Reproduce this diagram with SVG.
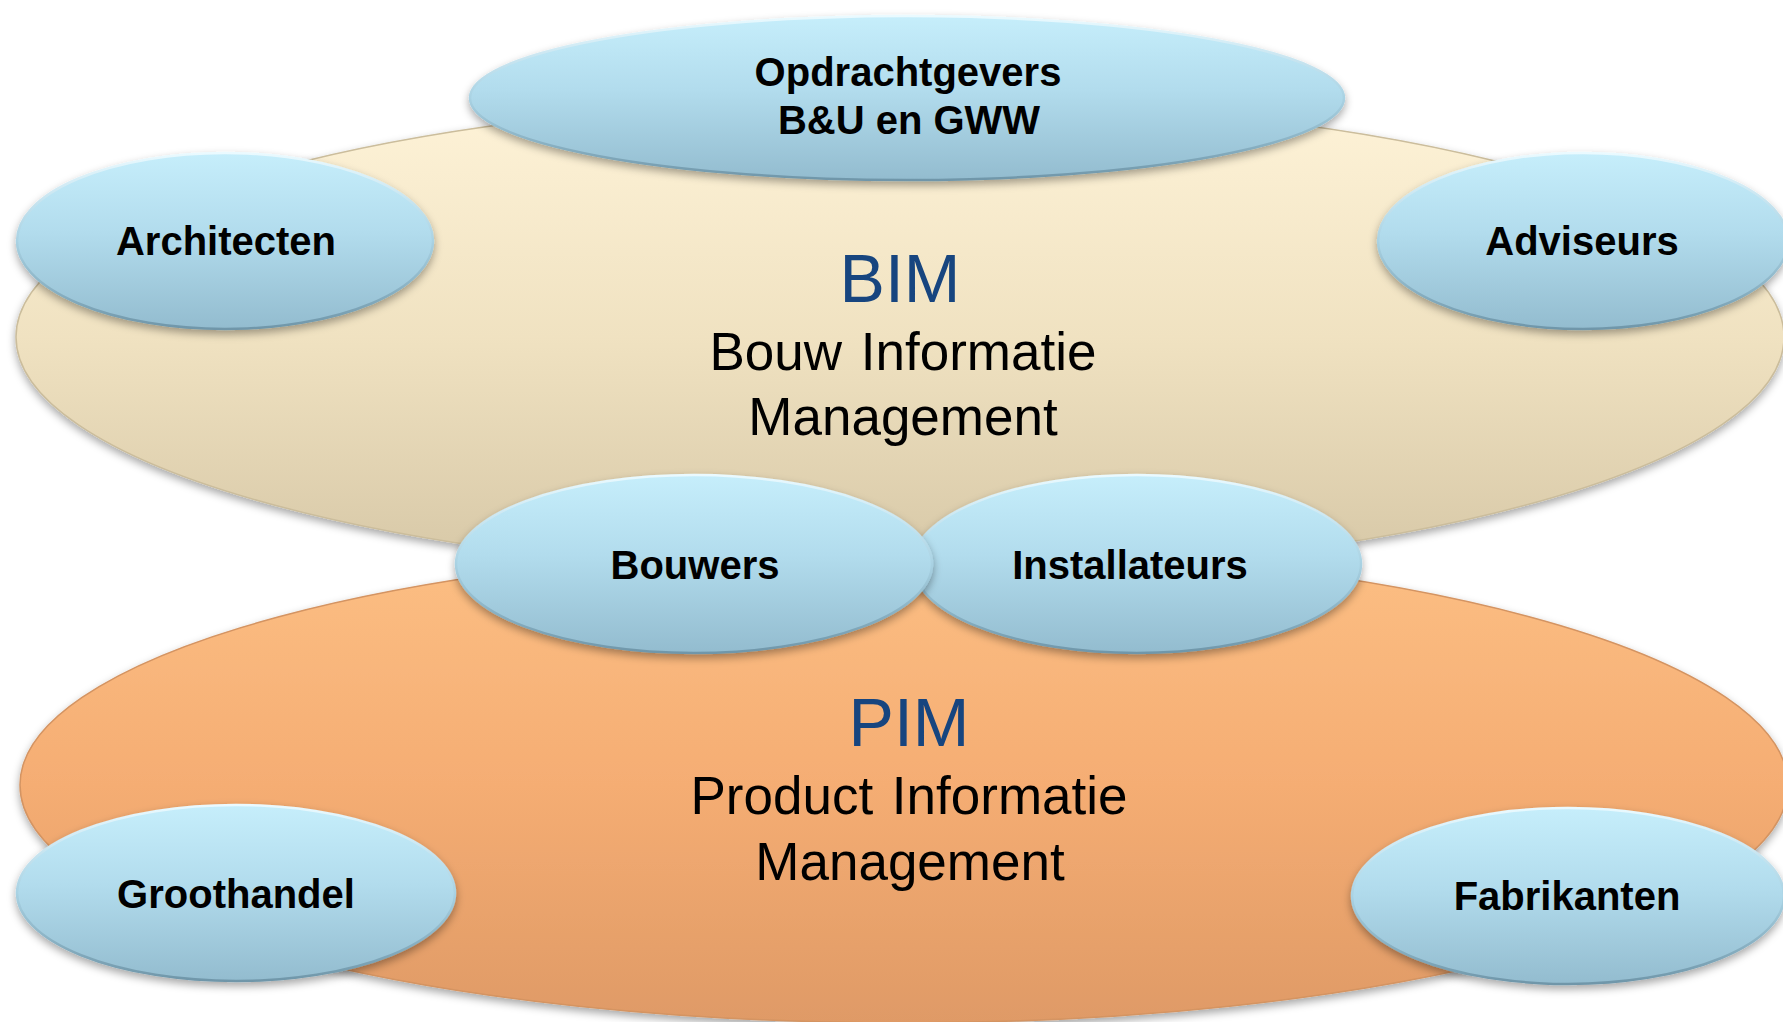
<svg xmlns="http://www.w3.org/2000/svg" width="1783" height="1022" viewBox="0 0 1783 1022">
  <defs>
    <linearGradient id="gBlue" x1="0" y1="0" x2="0" y2="1">
      <stop offset="0" stop-color="#c6eefb"/>
      <stop offset="0.45" stop-color="#b2dced"/>
      <stop offset="1" stop-color="#93bccf"/>
    </linearGradient>
    <linearGradient id="gBlueEdge" x1="0" y1="0" x2="0" y2="1">
      <stop offset="0" stop-color="#eafaff"/>
      <stop offset="0.5" stop-color="#a9d2e3"/>
      <stop offset="1" stop-color="#6f96a9"/>
    </linearGradient>
    <linearGradient id="gBeige" x1="0" y1="0" x2="0" y2="1">
      <stop offset="0" stop-color="#fef3d8"/>
      <stop offset="0.5" stop-color="#f0e2c1"/>
      <stop offset="1" stop-color="#d6c7a6"/>
    </linearGradient>
    <linearGradient id="gOrange" x1="0" y1="0" x2="0" y2="1">
      <stop offset="0" stop-color="#fcbf84"/>
      <stop offset="0.5" stop-color="#f5ad73"/>
      <stop offset="1" stop-color="#df9a66"/>
    </linearGradient>
    <filter id="shadow" x="-10%" y="-10%" width="120%" height="130%">
      <feDropShadow dx="0" dy="4" stdDeviation="4" flood-color="#000" flood-opacity="0.35"/>
    </filter>
  </defs>
  <style>
    .blue { fill: url(#gBlue); stroke: url(#gBlueEdge); stroke-width: 2.5; filter: url(#shadow); }
    .lbl { font-family: "Liberation Sans", Arial, sans-serif; font-weight: bold; font-size: 40px; fill: #000; text-anchor: middle; }
    .big { font-family: "Liberation Sans", Arial, sans-serif; font-size: 68px; fill: #17457f; text-anchor: middle; }
    .sub { font-family: "Liberation Sans", Arial, sans-serif; font-size: 53px; fill: #000; text-anchor: middle; word-spacing: 4px; }
  </style>
  <rect width="1783" height="1022" fill="#ffffff"/>

  <g id="bim">
    <ellipse cx="900" cy="337" rx="884" ry="238" fill="url(#gBeige)" stroke="#cbbd9c" stroke-width="1.5" filter="url(#shadow)"/>
    <text class="big" x="900" y="302">BIM</text>
    <text class="sub" x="903" y="370">Bouw Informatie</text>
    <text class="sub" x="903" y="435">Management</text>
  </g>

  <g id="pim">
    <ellipse cx="904" cy="785" rx="884" ry="238" fill="url(#gOrange)" stroke="#d49462" stroke-width="1.5" filter="url(#shadow)"/>
    <text class="big" x="909" y="746">PIM</text>
    <text class="sub" x="909" y="814">Product Informatie</text>
    <text class="sub" x="910" y="880">Management</text>
  </g>

  <g id="opdrachtgevers">
    <ellipse class="blue" cx="907" cy="98" rx="437" ry="82"/>
    <text class="lbl" x="908" y="86">Opdrachtgevers</text>
    <text class="lbl" x="909" y="134">B&amp;U en GWW</text>
  </g>

  <g id="architecten">
    <ellipse class="blue" cx="225" cy="241" rx="208" ry="88"/>
    <text class="lbl" x="226" y="255">Architecten</text>
  </g>

  <g id="adviseurs">
    <ellipse class="blue" cx="1583" cy="241" rx="205" ry="88"/>
    <text class="lbl" x="1582" y="255">Adviseurs</text>
  </g>

  <g id="installateurs">
    <ellipse class="blue" cx="1137" cy="564" rx="224" ry="89"/>
    <text class="lbl" x="1130" y="579">Installateurs</text>
  </g>

  <g id="bouwers">
    <ellipse class="blue" cx="694" cy="564" rx="238" ry="89"/>
    <text class="lbl" x="695" y="579">Bouwers</text>
  </g>

  <g id="groothandel">
    <ellipse class="blue" cx="236" cy="893" rx="219" ry="88"/>
    <text class="lbl" x="236" y="908">Groothandel</text>
  </g>

  <g id="fabrikanten">
    <ellipse class="blue" cx="1568" cy="896" rx="216" ry="88"/>
    <text class="lbl" x="1567" y="910">Fabrikanten</text>
  </g>
</svg>
